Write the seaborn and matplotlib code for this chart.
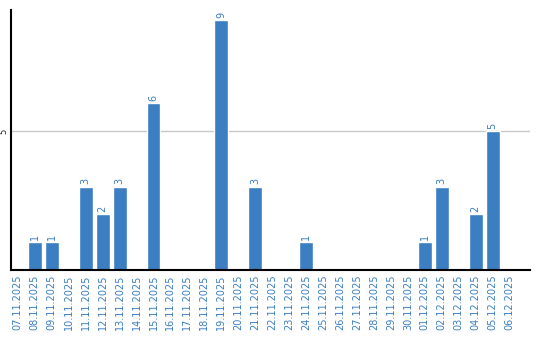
import matplotlib
matplotlib.use("Agg")
import matplotlib.pyplot as plt
import seaborn as sns
import pandas as pd

dates = ["07.11.2025", "08.11.2025", "09.11.2025", "10.11.2025", "11.11.2025",
         "12.11.2025", "13.11.2025", "14.11.2025", "15.11.2025", "16.11.2025",
         "17.11.2025", "18.11.2025", "19.11.2025", "20.11.2025", "21.11.2025",
         "22.11.2025", "23.11.2025", "24.11.2025", "25.11.2025", "26.11.2025",
         "27.11.2025", "28.11.2025", "29.11.2025", "30.11.2025", "01.12.2025",
         "02.12.2025", "03.12.2025", "04.12.2025", "05.12.2025", "06.12.2025"]
counts = [0, 1, 1, 0, 3, 2, 3, 0, 6, 0, 0, 0, 9, 0, 3, 0, 0, 1, 0, 0,
          0, 0, 0, 0, 1, 3, 0, 2, 5, 0]
yticks = [5]

df = pd.DataFrame({"date": dates, "count": counts})

sns.set_style("white")
fig = plt.figure(figsize=(5.4, 3.4), dpi=100)
ax = fig.add_axes([11/540, 70/340, (530-11)/540, 260/340])

blue = "#3b7ec1"
sns.barplot(data=df, x="date", y="count", color=blue, saturation=1, width=0.82, ax=ax)

for i, v in enumerate(counts):
    if v > 0:
        ax.text(i, v + 0.08, str(v), rotation=90, ha="center", va="bottom",
                fontsize=7, color=blue)

ax.set_xlim(-0.4, 30.2)
ax.set_ylim(0, 9.36)
ax.set_yticks(yticks)
ax.set_yticklabels([str(t) for t in yticks], rotation=90, fontsize=6, va="center")
ax.yaxis.grid(True, color="#c8c8c8", linewidth=1)
ax.set_axisbelow(True)
ax.tick_params(axis="both", length=0, pad=3)
ax.tick_params(axis="x", labelrotation=90, labelsize=7, labelcolor=blue)
ax.tick_params(axis="y", pad=2)
ax.set_xlabel("")
ax.set_ylabel("")
for s in ["top", "right"]:
    ax.spines[s].set_visible(False)
for s in ["left", "bottom"]:
    ax.spines[s].set_color("black")
    ax.spines[s].set_linewidth(1.5)

fig.savefig("out.png", dpi=100)
